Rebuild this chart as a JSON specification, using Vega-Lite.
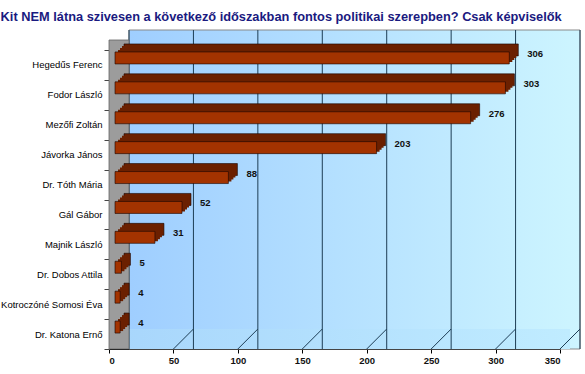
{
  "$schema": "https://vega.github.io/schema/vega-lite/v6.json",
  "width": 451,
  "height": 299,
  "autosize": "none",
  "padding": {"left": 109, "top": 50, "right": 25, "bottom": 25},
  "background": "white",
  "title": {
    "text": "Kit NEM látna szivesen a következő időszakban fontos politikai szerepben? Csak képviselők",
    "anchor": "start",
    "frame": "bounds",
    "font": "Liberation Sans",
    "fontSize": 12.8,
    "fontWeight": "bold",
    "color": "#1a1a80",
    "offset": 6
  },
  "datasets": {
    "votes": [
      {"name": "Hegedűs Ferenc", "value": 306},
      {"name": "Fodor László", "value": 303},
      {"name": "Mezőfi Zoltán", "value": 276},
      {"name": "Jávorka János", "value": 203},
      {"name": "Dr. Tóth Mária", "value": 88},
      {"name": "Gál Gábor", "value": 52},
      {"name": "Majnik László", "value": 31},
      {"name": "Dr. Dobos Attila", "value": 5},
      {"name": "Kotroczóné Somosi Éva", "value": 4},
      {"name": "Dr. Katona Ernő", "value": 4}
    ],
    "grid": [
      {"v": 0}, {"v": 50}, {"v": 100}, {"v": 150}, {"v": 200}, {"v": 250}, {"v": 300}, {"v": 350}
    ],
    "walls": [{"part": "wall", "start": 0, "end": 350}]
  },
  "layer": [
    {
      "data": {"name": "walls"},
      "mark": {
        "type": "rect",
        "xOffset": 20, "x2Offset": 20, "yOffset": -20, "y2Offset": -20,
        "fill": {"gradient": "linear", "x1": 0, "y1": 0, "x2": 1, "y2": 0,
          "stops": [{"offset": 0, "color": "#9fceff"}, {"offset": 1, "color": "#cdf5ff"}]},
        "stroke": "#8a8a8a", "strokeWidth": 1
      },
      "encoding": {
        "x": {"field": "start", "type": "quantitative", "title": null, "scale": {"domain": [0, 350], "nice": false},
          "axis": {"values": [0, 50, 100, 150, 200, 250, 300, 350], "tickSize": 4, "labelPadding": 2, "domainColor": "#000000", "tickColor": "#000000",
            "labelFont": "Liberation Sans", "labelFontSize": 9.5, "labelFontWeight": "bold", "labelColor": "#111111", "grid": false}},
        "x2": {"field": "end"}
      }
    },
    {
      "data": {"name": "walls"},
      "mark": {
        "type": "rect",
        "xOffset": 10, "x2Offset": 10, "yOffset": -20,
        "fill": {"gradient": "linear", "x1": 0, "y1": 0, "x2": 1, "y2": 0,
          "stops": [{"offset": 0, "color": "#a8d6fc"}, {"offset": 1, "color": "#c0ecff"}]}
      },
      "encoding": {
        "x": {"field": "start", "type": "quantitative", "title": null},
        "x2": {"field": "end"},
        "y": {"value": "height"},
        "y2": {"value": "height"}
      }
    },
    {
      "data": {"name": "grid"},
      "mark": {"type": "rule", "xOffset": 20, "yOffset": -20, "y2Offset": -20, "color": "#1d3d55", "strokeWidth": 1},
      "encoding": {
        "x": {"field": "v", "type": "quantitative", "title": null}
      }
    },
    {
      "data": {"name": "grid"},
      "mark": {"type": "rule", "x2Offset": 20, "y2Offset": -20, "color": "#1d3d55", "strokeWidth": 1},
      "encoding": {
        "x": {"field": "v", "type": "quantitative", "title": null},
        "x2": {"field": "v"},
        "y": {"value": "height"},
        "y2": {"value": "height"}
      }
    },
    {
      "data": {"name": "walls"},
      "mark": {"type": "rect", "x2Offset": 20, "yOffset": -10, "y2Offset": -10, "fill": "#9c9c9c", "stroke": "#666666", "strokeWidth": 0.8},
      "encoding": {
        "x": {"field": "start", "type": "quantitative", "title": null},
        "x2": {"field": "start"}
      }
    },
    {
      "data": {"name": "votes"},
      "mark": {"type": "bar", "size": 12, "xOffset": 15, "x2Offset": 15, "yOffset": -15, "fill": "#6b2000", "stroke": "#1a0500", "strokeWidth": 0.6},
      "encoding": {
        "y": {"field": "name", "type": "nominal", "sort": null, "title": null, "scale": {"paddingInner": 0, "paddingOuter": 0},
          "axis": {"tickBand": "extent", "tickSize": 5, "labelPadding": 2, "domainColor": "#444444", "tickColor": "#444444",
            "labelFont": "Liberation Sans", "labelFontSize": 9.5, "labelColor": "#000000", "grid": false}},
        "x": {"field": "value", "type": "quantitative", "title": null}
      }
    },
    {
      "data": {"name": "votes"},
      "mark": {"type": "bar", "size": 12, "xOffset": 13, "x2Offset": 13, "yOffset": -13, "fill": "#6b2000"},
      "encoding": {
        "y": {"field": "name", "type": "nominal", "sort": null, "title": null},
        "x": {"field": "value", "type": "quantitative", "title": null}
      }
    },
    {
      "data": {"name": "votes"},
      "mark": {"type": "bar", "size": 12, "xOffset": 11, "x2Offset": 11, "yOffset": -11, "fill": "#6b2000"},
      "encoding": {
        "y": {"field": "name", "type": "nominal", "sort": null, "title": null},
        "x": {"field": "value", "type": "quantitative", "title": null}
      }
    },
    {
      "data": {"name": "votes"},
      "mark": {"type": "bar", "size": 12, "xOffset": 9, "x2Offset": 9, "yOffset": -9, "fill": "#6b2000"},
      "encoding": {
        "y": {"field": "name", "type": "nominal", "sort": null, "title": null},
        "x": {"field": "value", "type": "quantitative", "title": null}
      }
    },
    {
      "data": {"name": "votes"},
      "mark": {"type": "bar", "size": 12, "xOffset": 6, "x2Offset": 6, "yOffset": -7, "fill": "#a33300", "stroke": "#1a0500", "strokeWidth": 0.6},
      "encoding": {
        "y": {"field": "name", "type": "nominal", "sort": null, "title": null},
        "x": {"field": "value", "type": "quantitative", "title": null}
      }
    },
    {
      "data": {"name": "votes"},
      "mark": {"type": "text", "align": "left", "baseline": "middle", "dx": 24, "dy": -11, "font": "Liberation Sans", "fontSize": 9.5, "fontWeight": "bold", "color": "#111111"},
      "encoding": {
        "y": {"field": "name", "type": "nominal", "sort": null, "title": null},
        "x": {"field": "value", "type": "quantitative", "title": null},
        "text": {"field": "value", "type": "quantitative"}
      }
    }
  ],
  "config": {
    "view": {"stroke": null}
  }
}
